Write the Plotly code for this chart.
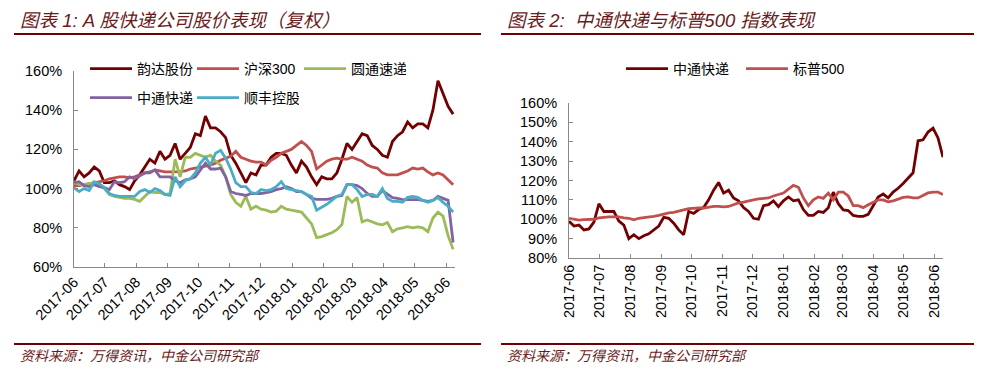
import pandas as pd
import plotly.graph_objects as go

W, H = 993, 376

# ---------------- Data: left chart (A股快递公司股价, 复权) ----------------
left_dates = pd.date_range("2017-06-01", "2018-06-08", periods=76)
yunda = [104,109,106,108,111,109,103,103,104,102,
         101,99.5,104,107,111,115,113,119,115,117,
         123,115,118,121,128,127,137,131,131,129,
         126,117,113,108,103,108,107,112,112,116,
         118,118,117,112,108,114,111,106,102,106,
         105,105,108,115,123,120,124,128,127,122,
         120,117,116,124,127,129,134,131,133,133,
         131,140,155,148,142,138]
hs300 = [101.5,101.5,102,102.5,103,103.5,104,105,105.5,106,
         106,105.5,106,107,108,108,109.5,109,108.5,108.5,
         108.5,108.7,109,110,110.5,111,111.5,112,113,114.5,
         115.5,116.5,119,116,115,114,113.5,113.5,112,114.5,
         116,118,119,120,122,124,122,119,110,112,
         114,115,115.5,115,115,116,115,114,112,111,
         110.5,108,107,107,107,108,109,110.5,110,110.5,
         108.5,107,108,107,104.5,102]
yto = [103.5,102,102,102.5,103,102,100,97,96,95.5,
       95,95,94.5,93.5,96,98.5,98,98,97,97.5,
       115,106,116,116,118,117,116,117,114,112,
       106,97,93,91,96,89.5,91,89.5,89,88,
       88.5,91,89.5,89,88.5,88,85,82,75,75.5,
       76.5,77.5,79,81.7,96,93,95.4,83,84,83,
       82,81.5,82.7,78,79.5,80,80.6,80,80.5,80,
       78,85,88,86,76,69]
zto = [103,103.5,101.5,101,102,101,100.5,99.5,103.5,103,
       103.5,106,105,106.5,108,108.5,109.5,106,106,106,
       104,103,104.5,105,106,109.5,113,110,110,110.5,
       106,98.5,97.5,97,96.5,97.5,97.5,97.5,98,98.5,
       99.5,100,101,100,98.5,98.5,97,95,94.5,94.5,
       94.5,95,96,96.5,102,102,101.5,100,97.5,96,
       96,99,97,95.4,95,94.4,94.4,94.4,94.4,94,
       93.5,94,96,95,94,72.5]
sf = [100.5,98.5,100,99,103.5,102.5,100.5,97.5,96.5,96,
      96,96,96,98.5,99.5,98,100,99,97,96.5,
      106,101,104,105,108,113,116,112,118,119.5,
      115.5,110,103,101,101,98,97.5,99.5,99,99.5,
      101,103.5,100,99.5,99,98.5,97,96,89,90.5,
      92,94,96,97,102,102,99.5,96,97,97,
      96,100,95,93.5,93.5,93,95.5,96,95.5,94,
      93,94,95.5,93,91,88]

left_series = [
    ("韵达股份", yunda, "#720000", "legend"),
    ("沪深300", hs300, "#C0504D", "legend"),
    ("圆通速递", yto, "#9BBB59", "legend"),
    ("中通快递", zto, "#8064A2", "legend2"),
    ("顺丰控股", sf, "#4BACC6", "legend2"),
]

# ---------------- Data: right chart (中通快递 vs 标普500) ----------------
right_dates = pd.date_range("2017-06-01", "2018-06-10", periods=76)
zto_us = [99,96.5,97,94.5,95,98.5,108,104,104,104,
          99,97,90,92,90,91.5,92.5,94.5,96.5,101,
          100.5,98,94.5,92,104,103,105,106,110,115,
          119,113.5,115,111,109.5,106,104,100.5,100,107,
          107.5,109.5,106.5,109.5,111.5,109.5,110,105,102,102,
          104,103.5,106,114,108,104.8,104.5,102,101.5,101.5,
          102.5,107,111.5,113,111,114,116,118.5,121,124,
          140.5,141,145,147,142,132]
sp500 = [100.5,100,99.6,99.8,99.8,100,100.7,101,101.2,101.2,
         101.2,100.7,100.5,99.7,100.5,100.8,101,101.5,102,102.8,
         103.3,103.5,104,104.8,105.5,105.8,105.8,105.8,106.2,106.6,
         106.6,106.4,106.6,107.5,108.4,108.8,109.5,110,110.5,110.8,
         111,112,112.6,113.5,115.5,117.5,116.5,111,107,110,
         111.5,110.8,113.5,110,114,114,112,107,107,106,
         107.5,108.8,110,110,109,109.5,110.5,111.3,111.5,111,
         111,112.5,113.6,114,114,112.8]

right_series = [
    ("中通快递", zto_us, "#720000"),
    ("标普500", sp500, "#C0504D"),
]

title_left = "图表 1: A 股快递公司股价表现（复权）"
title_right = "图表 2:  中通快递与标普500 指数表现"
source_text = "资料来源：万得资讯，中金公司研究部"

# ---------------- Figure ----------------
fig = go.Figure()
for name, vals, color, lg in left_series:
    fig.add_trace(go.Scatter(x=left_dates, y=vals, name=name, mode="lines",
                             line=dict(color=color, width=2.8),
                             xaxis="x", yaxis="y", legend=lg))
for name, vals, color in right_series:
    fig.add_trace(go.Scatter(x=right_dates, y=vals, name=name, mode="lines",
                             line=dict(color=color, width=2.8),
                             xaxis="x2", yaxis="y2", legend="legend3"))

AX = "#888888"
tickfont = dict(family="Liberation Sans, Arial, sans-serif", size=14.5, color="#000000")
common_x = dict(type="date", showgrid=False, zeroline=False, showline=True,
                linecolor=AX, linewidth=1, ticks="inside", ticklen=4, tickcolor=AX,
                tickformat="%Y-%m", dtick="M1", tick0="2017-06-01", tickfont=tickfont,
                automargin=False)
common_y = dict(showgrid=False, zeroline=False, showline=True, linecolor=AX, linewidth=1,
                ticks="inside", ticklen=4, tickcolor=AX, ticksuffix="%", tickfont=tickfont,
                automargin=False)

fig.update_layout(
    width=W, height=H, margin=dict(l=0, r=0, t=0, b=0, autoexpand=False),
    paper_bgcolor="white", plot_bgcolor="white", hovermode=False,
    xaxis=dict(domain=[74/W, 455/W], range=["2017-06-01", "2018-06-09 20:00"],
               tickangle=-45, anchor="y", **common_x),
    yaxis=dict(domain=[1-267/H, 1-71/H], range=[60, 160], dtick=20, anchor="x",
               ticklabelstandoff=8, **common_y),
    xaxis2=dict(domain=[569/W, 943/W], range=["2017-06-01", "2018-06-10"],
                tickangle=-90, anchor="y2", **common_x),
    yaxis2=dict(domain=[1-258/H, 1-103/H], range=[80, 160], dtick=10, anchor="x2",
                ticklabelstandoff=8, **common_y),
    showlegend=True,
)

legfont = dict(family="Liberation Sans, Noto Sans CJK SC, sans-serif", size=14, color="#000000")
leg_common = dict(orientation="h", xanchor="left", yanchor="middle", font=legfont,
                  bgcolor="rgba(0,0,0,0)", itemwidth=42, entrywidthmode="pixels",
                  tracegroupgap=0)
fig.update_layout(
    legend=dict(x=85/W, y=1-69/H, entrywidth=50, **leg_common),
    legend2=dict(x=85/W, y=1-98/H, entrywidth=50, **leg_common),
    legend3=dict(x=621/W, y=1-69/H, entrywidth=63, **leg_common),
)

RULE = "#6E0000"
TXT = "#6A1B1B"
shapes = []
for x0, x1 in [(14, 481), (501, 974)]:
    for yy in (34, 344):
        shapes.append(dict(type="line", xref="paper", yref="paper",
                           x0=x0/W, x1=x1/W, y0=1-yy/H, y1=1-yy/H,
                           line=dict(color=RULE, width=2.2)))
fig.update_layout(shapes=shapes)

tfont = dict(family="Liberation Sans, Noto Sans CJK SC, sans-serif", size=18.5, color=TXT, style="italic")
sfont = dict(family="Liberation Sans, Noto Sans CJK SC, sans-serif", size=14, color=TXT, style="italic")
annos = [
    dict(text=title_left, x=18/W, y=1-21/H, font=tfont),
    dict(text=title_right, x=505/W, y=1-21/H, font=tfont),
    dict(text=source_text, x=18/W, y=1-356/H, font=sfont),
    dict(text=source_text, x=505/W, y=1-356/H, font=sfont),
]
for a in annos:
    a.update(xref="paper", yref="paper", xanchor="left", yanchor="middle", showarrow=False)
fig.update_layout(annotations=annos)

fig.write_html("out.html", config={"displayModeBar": False, "staticPlot": True},
               post_script="document.body.style.margin='0';document.body.style.overflow='hidden';")
